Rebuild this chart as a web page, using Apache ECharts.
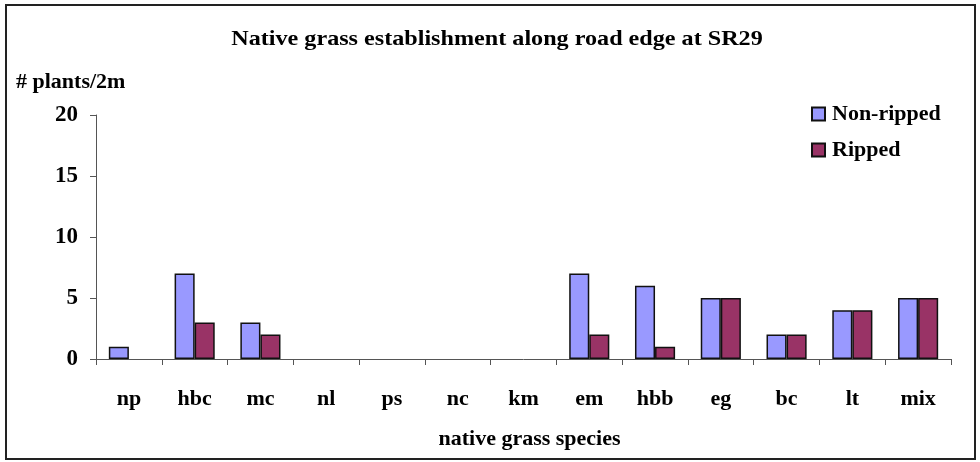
<!DOCTYPE html>
<html><head><meta charset="utf-8">
<script src="https://cdn.jsdelivr.net/npm/echarts@6/dist/echarts.min.js"></script>
<style>html,body{margin:0;padding:0;background:#fff}#c{width:980px;height:462px}</style>
</head><body><div id="c"></div>
<script>
const categories = ['np','hbc','mc','nl','ps','nc','km','em','hbb','eg','bc','lt','mix'];
const nonRipped = [1,7,3,0,0,0,0,7,6,5,2,4,5];
const ripped = [0,3,2,0,0,0,0,2,1,5,2,4,5];
const yTicks = {min:0, max:20, interval:5};
const F = '"Liberation Serif","Times New Roman",serif';
const chart = echarts.init(document.getElementById('c'), null, {renderer:'canvas'});
const toData = arr => arr.map(v => v === 0 ? null : v);
chart.setOption({
  animation:false,
  backgroundColor:'#fff',
  graphic:[
    {type:'rect', shape:{x:6, y:5, width:969, height:454}, style:{fill:'none', stroke:'#222', lineWidth:2}, silent:true},
    {type:'text', x:497, y:29, scaleX:1.15, style:{text:'Native grass establishment along road edge at SR29', font:'bold 21px '+F, fill:'#000', textAlign:'center', textVerticalAlign:'top'}},
    {type:'text', x:16, y:73, scaleX:1.1, style:{text:'# plants/2m', font:'bold 20px '+F, fill:'#000', textAlign:'left', textVerticalAlign:'top'}}
  ],
  legend:{orient:'vertical', left:806, top:98, itemWidth:13, itemHeight:13, itemGap:14, icon:'rect',
    data:['Non-ripped','Ripped'],
    textStyle:{fontFamily:F, fontWeight:'bold', fontSize:22, color:'#000', padding:[0,0,0,2]}},
  grid:{left:96, right:29, top:115, bottom:103},
  xAxis:{type:'category', data:categories,
    name:'native grass species', nameLocation:'middle', nameGap:69,
    nameTextStyle:{fontFamily:F, fontWeight:'bold', fontSize:22, color:'#000', padding:[0,0,0,12]},
    axisLine:{lineStyle:{color:'#555', width:1}},
    axisTick:{show:true, length:6, lineStyle:{color:'#555'}},
    axisLabel:{fontFamily:F, fontWeight:'bold', fontSize:22, color:'#000', margin:29}},
  yAxis:{type:'value', min:yTicks.min, max:yTicks.max, interval:yTicks.interval,
    splitLine:{show:false},
    axisLine:{show:true, lineStyle:{color:'#555', width:1}},
    axisTick:{show:true, length:6, lineStyle:{color:'#555'}},
    axisLabel:{fontFamily:F, fontWeight:'bold', fontSize:23, color:'#000', margin:18}},
  series:[
    {name:'Non-ripped', type:'bar', data:toData(nonRipped), barGap:'0%', barCategoryGap:'39%',
      itemStyle:{color:'#9999FF', borderColor:'#111', borderWidth:1.5}},
    {name:'Ripped', type:'bar', data:toData(ripped), barGap:'0%', barCategoryGap:'39%',
      itemStyle:{color:'#993366', borderColor:'#111', borderWidth:1.5}}
  ]
});
</script></body></html>
